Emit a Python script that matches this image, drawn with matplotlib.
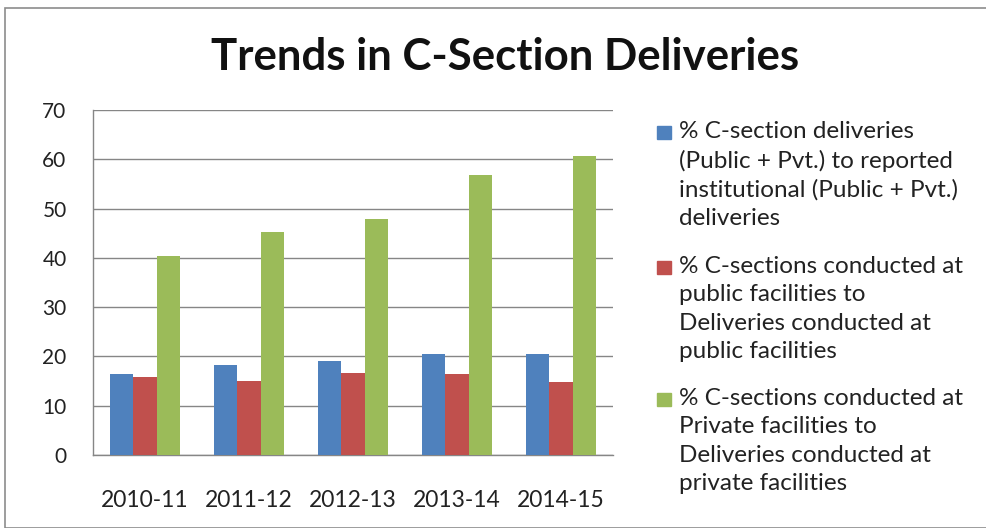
# Trends in C-Section Deliveries - grouped bar chart

import numpy as np
import matplotlib.pyplot as plt
from matplotlib.patches import Rectangle

years = ['2010-11', '2011-12', '2012-13', '2013-14', '2014-15']
total_pct = [16.5, 18.3, 19.1, 20.4, 20.4]    # Public + Pvt.
public_pct = [15.9, 15.1, 16.6, 16.4, 14.9]
private_pct = [40.3, 45.2, 47.9, 56.8, 60.6]

labels = ['% C-section deliveries\n(Public + Pvt.) to reported\ninstitutional (Public + Pvt.)\ndeliveries',
          '% C-sections conducted at\npublic facilities to\nDeliveries conducted at\npublic facilities',
          '% C-sections conducted at\nPrivate facilities to\nDeliveries conducted at\nprivate facilities']
colors = ['#4F81BD', '#C0504D', '#9BBB59']

plt.rcParams['font.family'] = ['Lato', 'DejaVu Sans']

fig = plt.figure(figsize=(9.86, 5.28), dpi=100)
W, H = 986, 528

# outer chart border
fig.patches.append(Rectangle((5/W, 0), 1.0, 1 - 8/H, transform=fig.transFigure,
                             fill=False, edgecolor='#8c8c8c', linewidth=1.2))

ax = fig.add_axes([93/W, 1 - 455/H, (613-93)/W, (455-110)/H])

x = np.arange(len(years))
w = 1/4.5  # excel default gap width 150%
for i, vals in enumerate([total_pct, public_pct, private_pct]):
    ax.bar(x + (i-1)*w, vals, width=w, color=colors[i], zorder=3)

ax.set_xlim(-0.5, 4.5)
ax.set_ylim(0, 70)
ax.set_yticks(range(0, 71, 10))
ax.set_xticks(x)
ax.set_xticklabels(years)
ax.tick_params(axis='y', length=0, pad=19, labelsize=15, labelcolor='#222222')
ax.tick_params(axis='x', length=0, pad=25, labelsize=16.5, labelcolor='#222222')
ax.grid(axis='y', color='#868686', linewidth=1, zorder=0)
for s in ['top', 'right']:
    ax.spines[s].set_visible(False)
for s in ['left', 'bottom']:
    ax.spines[s].set_color('#868686')
    ax.spines[s].set_linewidth(1)

fig.text(505/W, 1 - 57/H, 'Trends in C-Section Deliveries', ha='center', va='center',
         fontsize=31.5, fontweight='bold', color='#111111')

# legend, drawn by hand so the marker sits on the first line
entry_y = [133, 268, 400]
for lab, c, yy in zip(labels, colors, entry_y):
    fig.patches.append(Rectangle((657/W, 1 - (yy + 6)/H), 14/W, 13/H,
                                 transform=fig.transFigure, color=c))
    fig.text(679/W, 1 - (yy - 12)/H, lab, ha='left', va='top', fontsize=17.5,
             color='#222222', linespacing=1.43)

plt.savefig('out.png', dpi=100)
